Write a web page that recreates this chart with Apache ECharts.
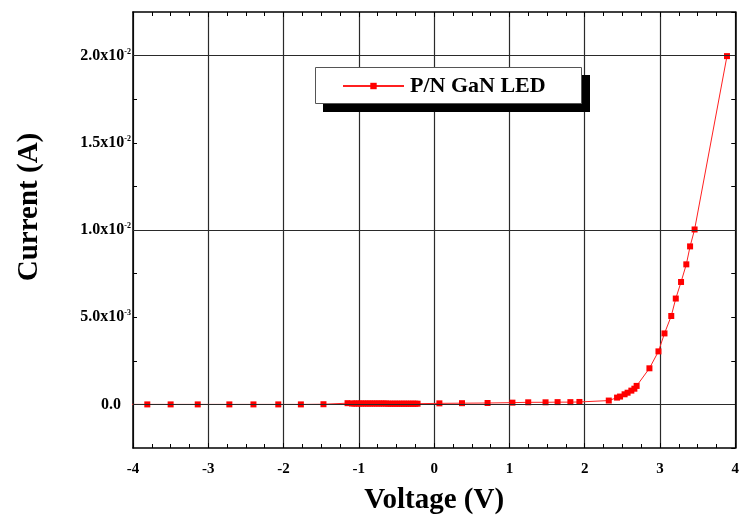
<!DOCTYPE html>
<html><head><meta charset="utf-8">
<script src="https://cdn.jsdelivr.net/npm/echarts@6/dist/echarts.min.js"></script>
<style>html,body{margin:0;padding:0;background:#fff}#c{width:742px;height:522px}</style>
</head><body><div id="c"></div>
<script>
const seriesName = 'P/N GaN LED';
const xAxisName = 'Voltage (V)';
const yAxisName = 'Current (A)';

// Voltage (V)
const voltage = [
  -4.15, -3.81, -3.50, -3.14, -2.72, -2.40, -2.07, -1.77, -1.47, -1.15,
  -1.09, -1.06, -1.03, -1.00, -0.97, -0.94, -0.91, -0.88, -0.85, -0.82,
  -0.79, -0.76, -0.73, -0.70, -0.67, -0.64, -0.61, -0.58, -0.55, -0.52,
  -0.49, -0.46, -0.43, -0.40, -0.37, -0.34, -0.31, -0.28, -0.25, -0.22,
  0.07, 0.37, 0.71, 1.04, 1.25, 1.48, 1.64, 1.81, 1.93,
  2.32, 2.43, 2.47, 2.53, 2.57, 2.62, 2.66, 2.69, 2.86, 2.98,
  3.06, 3.15, 3.21, 3.28, 3.35, 3.40, 3.46, 3.89
];
// Current (A)
const current = [
  0.00000, 0.00000, 0.00000, 0.00000, 0.00000, 0.00000, 0.00000, 0.00000, 0.00001, 0.00007,
  0.00005, 0.00005, 0.00005, 0.00005, 0.00005, 0.00005, 0.00005, 0.00005, 0.00005, 0.00005,
  0.00005, 0.00005, 0.00005, 0.00005, 0.00005, 0.00005, 0.00004, 0.00004, 0.00004, 0.00004,
  0.00004, 0.00004, 0.00004, 0.00004, 0.00004, 0.00004, 0.00004, 0.00004, 0.00004, 0.00004,
  0.00006, 0.00007, 0.00008, 0.00010, 0.00012, 0.00012, 0.00013, 0.00013, 0.00014,
  0.00022, 0.00039, 0.00045, 0.00058, 0.00067, 0.00079, 0.00090, 0.00106, 0.00207, 0.00304,
  0.00407, 0.00507, 0.00607, 0.00702, 0.00803, 0.00906, 0.01003, 0.01997
];

// Axis ticks / labels
const xMin = -4, xMax = 4, xStep = 1;
const yMin = -0.0025, yMax = 0.0225, yStep = 0.0025;
const yLabelValues = [0, 0.005, 0.01, 0.015, 0.02];
const yLabelMantissa = ['0.0', '5.0', '1.0', '1.5', '2.0'];
const yLabelExponent = ['', '-3', '-2', '-2', '-2'];

const points = voltage.map((v, i) => [v, current[i]]);
const serif = '"Liberation Serif", "Times New Roman", "DejaVu Serif", serif';
const gridColor = '#2a2a2a';

function yLabel(v) {
  for (let i = 0; i < yLabelValues.length; i++) {
    if (Math.abs(v - yLabelValues[i]) < 1e-9) {
      if (!yLabelExponent[i]) return '{z|' + yLabelMantissa[i] + '}';
      return '{b|' + yLabelMantissa[i] + 'x10}{s|' + yLabelExponent[i] + '}';
    }
  }
  return '';
}

const chart = echarts.init(document.getElementById('c'), null, {renderer: 'canvas'});
chart.setOption({
  backgroundColor: '#fff',
  animation: false,
  grid: {left: 133, right: 5, top: 12, bottom: 74, show: false},
  graphic: [
    {type: 'rect', z: 6, silent: true, shape: {x: 323, y: 75, width: 267, height: 37}, style: {fill: '#000'}},
    {type: 'rect', z: 7, silent: true, shape: {x: 315.5, y: 67.5, width: 266, height: 36}, style: {fill: '#fff', stroke: '#555', lineWidth: 1}}
  ],
  legend: {
    data: [seriesName],
    left: 315, top: 67, z: 10,
    padding: [8, 0, 8, 27],
    itemWidth: 61, itemHeight: 8,
    itemGap: 6,
    textStyle: {fontFamily: serif, fontWeight: 'bold', fontSize: 22, color: '#000', padding: [0, 0, 0, 1]}
  },
  xAxis: [{
    type: 'value', position: 'bottom', min: xMin, max: xMax, interval: xStep,
    name: xAxisName, nameLocation: 'middle', nameGap: 38,
    nameTextStyle: {fontFamily: serif, fontWeight: 'bold', fontSize: 29, color: '#000'},
    axisLine: {show: true, onZero: false, lineStyle: {color: '#000', width: 1.5}},
    axisTick: {show: true, inside: true, length: 5, lineStyle: {color: '#000'}},
    minorTick: {show: true, splitNumber: 4, length: 4, lineStyle: {color: '#000'}},
    axisLabel: {margin: 14, fontFamily: serif, fontWeight: 'bold', fontSize: 15, color: '#000'},
    splitLine: {show: true, lineStyle: {color: gridColor, width: 1.2}}
  }, {
    type: 'value', position: 'top', min: xMin, max: xMax, interval: xStep,
    axisLine: {show: true, onZero: false, lineStyle: {color: '#000', width: 1.5}},
    axisTick: {show: true, inside: true, length: 5, lineStyle: {color: '#000'}},
    minorTick: {show: true, splitNumber: 4, length: 4, lineStyle: {color: '#000'}},
    axisLabel: {show: false},
    splitLine: {show: false}
  }],
  yAxis: [{
    type: 'value', position: 'left', min: yMin, max: yMax, interval: yStep,
    name: yAxisName, nameLocation: 'middle', nameGap: 89,
    nameTextStyle: {fontFamily: serif, fontWeight: 'bold', fontSize: 29, color: '#000', padding: [0, 0, 0, 46]},
    axisLine: {show: true, onZero: false, lineStyle: {color: '#000', width: 1.5}},
    axisTick: {show: true, inside: true, length: 4, lineStyle: {color: '#000'}},
    axisLabel: {
      margin: 2, showMinLabel: false, showMaxLabel: false,
      formatter: yLabel,
      rich: {
        b: {fontFamily: serif, fontWeight: 'bold', fontSize: 16, color: '#000'},
        s: {fontFamily: serif, fontWeight: 'bold', fontSize: 8, color: '#000', verticalAlign: 'top', padding: [0, 0, 8, 0]},
        z: {fontFamily: serif, fontWeight: 'bold', fontSize: 16, color: '#000', padding: [0, 10, 0, 0]}
      }
    },
    splitLine: {show: false}
  }, {
    type: 'value', position: 'right', min: yMin, max: yMax, interval: yStep,
    axisLine: {show: true, onZero: false, lineStyle: {color: '#000', width: 1.5}},
    axisTick: {show: true, inside: true, length: 4, lineStyle: {color: '#000'}},
    axisLabel: {show: false},
    splitLine: {show: false}
  }],
  series: [{
    name: 'grid', type: 'line', data: [], z: 1, silent: true,
    markLine: {
      silent: true, symbol: 'none', label: {show: false},
      lineStyle: {color: gridColor, width: 1.2, type: 'solid'},
      data: yLabelValues.map(v => ({yAxis: v}))
    }
  }, {
    name: seriesName, type: 'line', data: points, z: 3,
    clip: true,
    symbol: 'rect', symbolSize: 6,
    lineStyle: {color: '#ff2020', width: 1},
    itemStyle: {color: '#ff0000'}
  }]
});
</script></body></html>
